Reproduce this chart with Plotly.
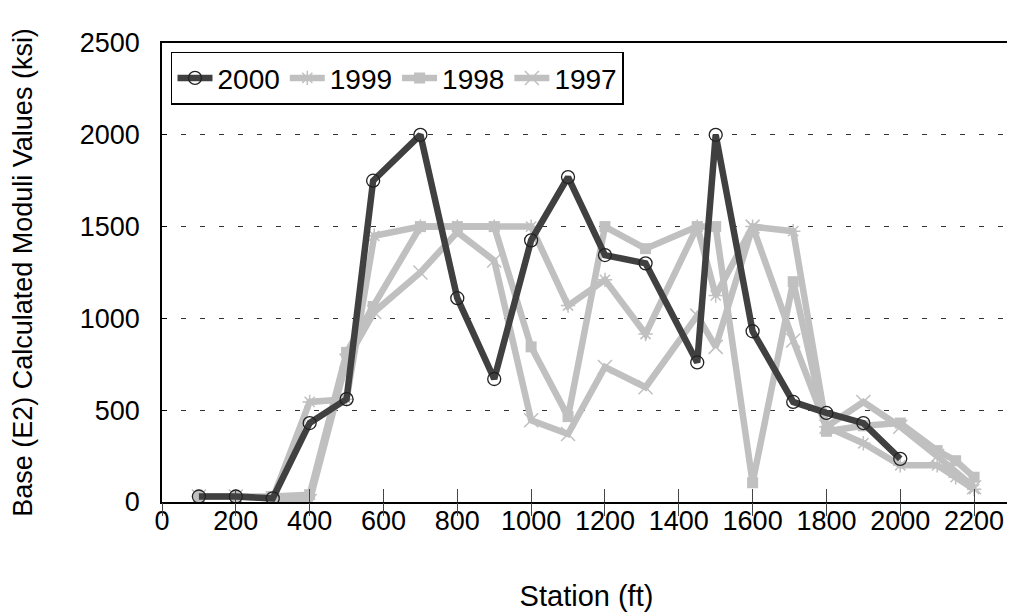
import plotly.graph_objects as go

# Station (ft) and modulus values (ksi)
x2000 = [100, 200, 300, 400, 500, 572, 700, 800, 900, 1000, 1100, 1200, 1310, 1450, 1500, 1600, 1710, 1800, 1900, 2000]
y2000 = [30, 30, 20, 430, 560, 1750, 2000, 1110, 670, 1425, 1770, 1345, 1300, 760, 2000, 930, 545, 485, 430, 235]

x1999 = [100, 200, 300, 400, 500, 575, 700, 800, 900, 1000, 1100, 1200, 1310, 1450, 1500, 1600, 1710, 1800, 1900, 2000, 2100, 2150, 2200]
y1999 = [30, 30, 20, 545, 560, 1450, 1500, 1500, 1500, 1500, 1070, 1210, 915, 1500, 1125, 1500, 1475, 410, 320, 200, 200, 135, 70]

x1998 = [100, 200, 300, 400, 500, 572, 700, 800, 900, 1000, 1100, 1200, 1310, 1450, 1500, 1600, 1710, 1800, 1900, 2000, 2100, 2150, 2200]
y1998 = [30, 30, 30, 40, 815, 1065, 1500, 1500, 1500, 845, 465, 1500, 1380, 1500, 1500, 105, 1200, 385, 415, 430, 280, 225, 135]

x1997 = [100, 200, 300, 400, 500, 575, 700, 800, 900, 1000, 1100, 1200, 1310, 1450, 1500, 1600, 1710, 1800, 1900, 2000, 2100, 2200]
y1997 = [30, 30, 20, 5, 770, 1035, 1250, 1470, 1315, 445, 370, 735, 625, 1015, 845, 1500, 880, 410, 545, 410, 250, 80]

x_ticks = [0, 200, 400, 600, 800, 1000, 1200, 1400, 1600, 1800, 2000, 2200]
y_ticks = [0, 500, 1000, 1500, 2000, 2500]

DARK = "#404040"
LIGHT = "#c0c0c0"
FONT = "Liberation Sans, Arial, sans-serif"

fig = go.Figure()
fig.add_trace(go.Scatter(x=x1997, y=y1997, name="1997", mode="lines+markers",
                         line=dict(color=LIGHT, width=6.5),
                         marker=dict(symbol="x-thin-open", size=14, color=LIGHT, line=dict(width=1.5, color=LIGHT))))
fig.add_trace(go.Scatter(x=x1998, y=y1998, name="1998", mode="lines+markers",
                         line=dict(color=LIGHT, width=6.5),
                         marker=dict(symbol="square", size=11, color=LIGHT)))
fig.add_trace(go.Scatter(x=x1999, y=y1999, name="1999", mode="lines+markers",
                         line=dict(color=LIGHT, width=6.5),
                         marker=dict(symbol="asterisk-open", size=12, color=LIGHT, line=dict(width=1.5, color=LIGHT))))
fig.add_trace(go.Scatter(x=x2000, y=y2000, name="2000", mode="lines+markers",
                         line=dict(color=DARK, width=6.5),
                         marker=dict(symbol="circle-open", size=13, color="#222222", line=dict(width=1.3, color="#222222"))))

fig.update_layout(
    width=1007, height=607,
    margin=dict(l=154, r=4, t=35, b=113, autoexpand=False),
    paper_bgcolor="white", plot_bgcolor="white",
    font=dict(family=FONT, size=27, color="black"),
    showlegend=True,
    legend=dict(orientation="h", traceorder="reversed", x=0.0106, y=0.981, xanchor="left", yanchor="top",
                bordercolor="black", borderwidth=1.5, bgcolor="white",
                font=dict(size=28, family=FONT), itemwidth=35, tracegroupgap=0),
    xaxis=dict(range=[0, 2300], tickmode="array", tickvals=x_ticks, ticktext=[str(v) for v in x_ticks],
               ticks="inside", ticklen=13, tickcolor="#444", tickwidth=1.3,
               showline=True, linecolor="black", linewidth=2, mirror=True,
               showgrid=False, zeroline=False, automargin=False, ticklabelstandoff=-6,
               title=dict(text="Station (ft)", font=dict(size=29), standoff=50),
               tickfont=dict(size=27)),
    xaxis2=dict(range=[0, 2300], overlaying="x", tickmode="array", tickvals=x_ticks,
                ticks="outside", ticklen=13, tickcolor="#444", tickwidth=1.3, automargin=False,
                showticklabels=False, showgrid=False, zeroline=False, showline=False, side="bottom"),
    yaxis=dict(range=[0, 2500], tickmode="array", tickvals=y_ticks, ticktext=[str(v) for v in y_ticks],
               ticks="inside", ticklen=5, tickcolor="black", automargin=False, ticklabelstandoff=15,
               showline=True, linecolor="black", linewidth=1.5, mirror=True,
               showgrid=True, gridcolor="#333", griddash="5px,14px", gridwidth=1.2,
               zeroline=False,
               title=dict(text="Base (E2) Calculated Moduli Values (ksi)", font=dict(size=27), standoff=39),
               tickfont=dict(size=27)),
)
fig.add_trace(go.Scatter(x=[0, 2300], y=[None, None], xaxis="x2", showlegend=False, hoverinfo="skip"))

fig.write_html("out.html")
